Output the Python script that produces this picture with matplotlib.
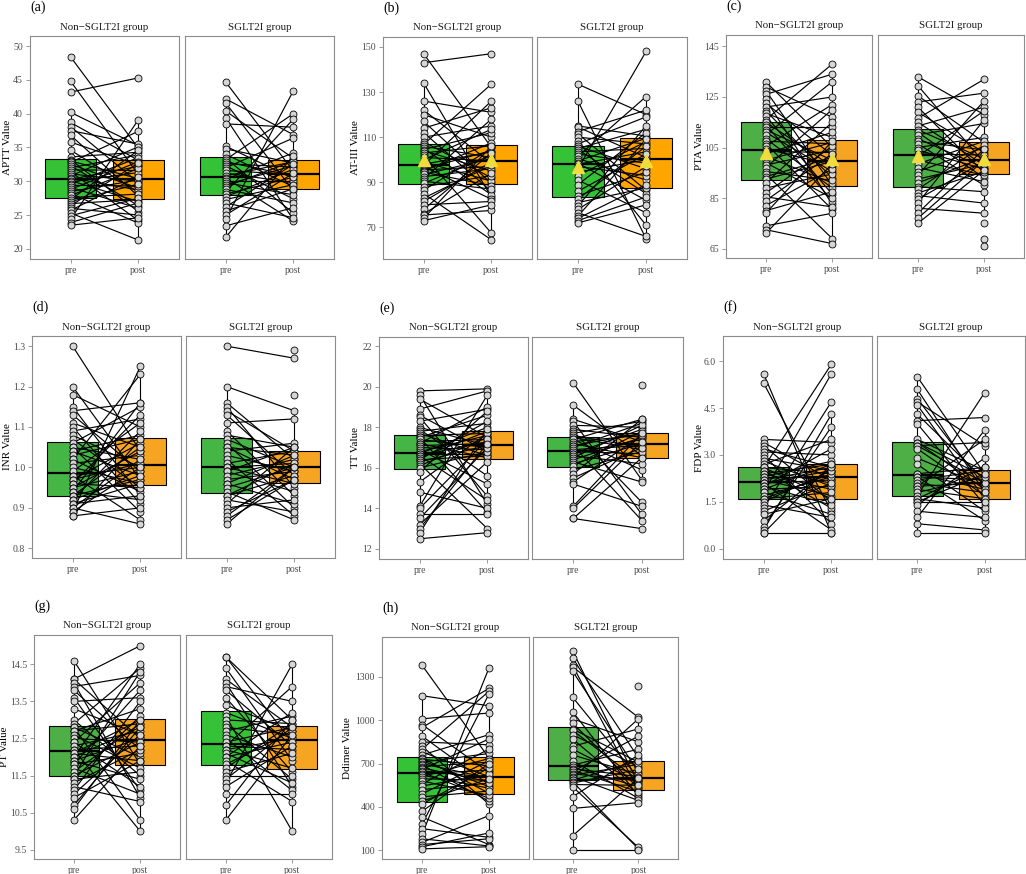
import numpy as np
import matplotlib
matplotlib.use("Agg")
import matplotlib.pyplot as plt

plt.rcParams['font.family'] = ['Liberation Serif', 'DejaVu Serif']

nan = np.nan
groups = ["Non\u2212SGLT2I group", "SGLT2I group"]
times = ["pre", "post"]

# (a) APTT
aptt_non_pre = [48.4, 44.8, 43.2, 40.2, 38.7, 38.1, 37.5, 36.8, 35.8, 34.6, 33.6, 33.2, 33.0, 32.8, 32.5,
                32.3, 32.0, 31.7, 31.4, 31.1, 30.8, 30.5, 30.3, 30.1, 29.9, 29.6, 29.4, 29.1, 28.8, 28.5,
                28.2, 27.9, 27.6, 27.3, 27.0, 26.7, 26.4, 26.0, 25.7, 25.3, 24.9, 24.4, 23.9, 23.5]
aptt_non_post = [34.9, 31.0, 45.3, 35.3, 33.1, 29.8, 35.5, 27.8, 32.4, 28.4, 34.3, 25.5, 30.4, 37.4, 29.0,
                 26.4, 33.9, 31.6, 24.2, 30.0, 35.1, 28.7, 32.2, 27.0, 31.3, 33.5, 29.3, 26.0, 32.9, 30.2,
                 23.8, 31.9, 28.1, 34.6, 29.6, 27.3, 32.7, 25.0, 30.7, 21.3, 27.5, 39.1, 26.8, 24.6]
aptt_sg_pre = [44.7, 42.2, 41.6, 40.4, 39.4, 38.5, 35.2, 34.8, 34.0, 33.4, 33.2, 32.9, 32.6, 32.3, 32.0,
               31.6, 31.2, 30.8, 30.5, 30.3, 30.1, 29.8, 29.5, 29.2, 28.8, 28.4, 28.1, 27.7, 27.3, 26.8,
               26.2, 25.6, 25.0, 24.4, 23.4, 21.7]
aptt_sg_post = [31.5, 36.9, 28.6, 33.4, 24.3, 38.0, 30.4, 32.7, 29.2, 25.3, 40.0, 30.8, 32.1, 27.4, 36.4,
                31.0, 29.8, 32.9, 24.1, 34.2, 30.1, 28.0, 32.3, 33.0, 26.8, 39.2, 30.6, 31.8, 29.5, 24.6,
                32.5, 28.9, 31.2, 43.4, 26.1, 33.8]
aptt_ticks = [20, 25, 30, 35, 40, 45, 50]

# (b) AT-III
at3_non_pre = [147, 143, 134, 126, 122, 120, 117, 114, 112, 110, 108, 106.8, 106, 105, 104.5, 104, 103,
               102, 101, 100, 99, 98, 97.5, 97, 96, 95.5, 95, 94.5, 93.5, 92.5, 91.5, 90.5, 89.5, 88,
               86.5, 85, 83, 81.5, 80, 78, 76, 75.5, 74, 73]
at3_non_post = [105.5, 147, 83.5, 121, 98.5, 110, 89.5, 123, 86, 115, 92, 133.5, 101, 84.5, 112, 95,
                106.2, 67.5, 99.5, 113.5, 90.5, 103.5, 126, 82.5, 104, 97, 107.5, 88.5, 100.5, 96, 118,
                87, 102, 93, 105, 64.5, 97.5, 99, 81.5, 103, 94, 77.5, 106, 80]
at3_sg_pre = [133.5, 126, 115, 114.5, 112.5, 111.5, 110, 108.5, 107, 106, 105, 104.5, 103.5, 102.5, 101.5,
              100.5, 99.5, 98.5, 98, 97, 96, 94.5, 93, 91, 89, 86, 84, 82.5, 81, 79.5, 78, 76.5, 75,
              74, 73, 72]
at3_sg_post = [120, 65, 110.5, 101, 122, 86.5, 107, 71, 119, 96, 113.5, 85, 105, 98.5, 128, 91, 109.5,
               82, 103.5, 93, 148, 100, 108, 76.5, 112, 102.5, 94.5, 106, 87.5, 115, 97, 66, 109, 89,
               83.5, 80]
at3_ticks = [70, 90, 110, 130, 150]

# (c) PTA
pta_non_pre = [131, 129, 127.5, 126, 124, 122.5, 121, 119.5, 118.5, 117.5, 116, 115, 114, 113, 112, 111,
               110, 108.5, 107.5, 106.5, 105.5, 104.5, 103.5, 102.5, 101.5, 100, 99, 98, 97, 95.5, 94.5,
               93.5, 92.5, 91, 89, 87, 85.5, 84, 82, 80, 79, 74, 72.5, 71]
pta_non_post = [105, 117, 90, 134, 82.5, 102, 125, 93, 109, 86.5, 138, 97.5, 84, 113, 100, 95.5, 131, 89,
                106.5, 80.5, 122, 98, 103, 111, 91, 107, 85, 104, 120, 92, 69, 101, 99.5, 115, 94.5,
                105.5, 81.5, 102.5, 96.5, 87.5, 107.5, 79, 67, 98.5]
pta_sg_pre = [133, 129.5, 125.5, 123, 121, 119, 116.5, 115, 113.5, 112, 111, 110, 108.5, 107.5, 106.5,
              105, 104, 102.5, 101.5, 100, 98.5, 97, 95.5, 94, 92.5, 91, 89.5, 88.5, 87, 86, 84.5, 83,
              81, 79, 77, 75, nan, nan, nan]
pta_sg_post = [118, 99, 107, 126.5, 95, 103, 132, 98, 121, 100.5, 93, 114.5, 97, 104, 90, 109, 96.5, 102,
               119.5, 94, 107.5, 91.5, 105, 123.5, 98.5, 101, 87.5, 106, 95.5, 83, 99.5, 116, 79, 104.5,
               100, 96, 75, 69, 66]
pta_ticks = [65, 85, 105, 125, 145]

# (d) INR
inr_non_pre = [1.30, 1.20, 1.18, 1.15, 1.14, 1.13, 1.11, 1.10, 1.09, 1.08, 1.07, 1.06, 1.05, 1.05, 1.04,
               1.04, 1.03, 1.02, 1.02, 1.01, 1.00, 0.99, 0.98, 0.98, 0.97, 0.97, 0.96, 0.96, 0.95, 0.95,
               0.94, 0.94, 0.93, 0.93, 0.92, 0.92, 0.91, 0.91, 0.90, 0.90, 0.89, 0.89, 0.88, 0.88]
inr_non_post = [1.04, 0.97, 1.10, 0.93, 1.16, 0.99, 1.05, 0.91, 1.12, 1.00, 0.95, 1.15, 1.02, 0.89, 1.08,
                0.98, 1.07, 0.94, 1.23, 1.03, 0.96, 1.11, 1.00, 0.87, 1.06, 1.01, 0.95, 1.13, 0.99, 1.04,
                0.92, 1.16, 0.97, 1.05, 0.98, 1.09, 0.96, 0.93, 1.02, 0.86, 1.25, 1.00, 1.07, 0.90]
inr_sg_pre = [1.30, 1.20, 1.16, 1.15, 1.14, 1.13, 1.11, 1.09, 1.08, 1.07, 1.06, 1.05, 1.05, 1.04, 1.03,
              1.02, 1.01, 1.00, 1.00, 0.99, 0.99, 0.98, 0.97, 0.96, 0.96, 0.95, 0.94, 0.93, 0.93, 0.92,
              0.91, 0.90, 0.89, 0.88, 0.87, 0.86, nan, nan]
inr_sg_post = [1.27, 1.14, 1.02, 0.95, 1.04, 0.98, 1.12, 0.93, 1.05, 1.00, 0.90, 1.03, 0.97, 1.06, 0.99,
               0.88, 1.04, 1.01, 0.96, 1.05, 0.94, 1.02, 0.99, 0.91, 1.03, 1.00, 0.87, 1.01, 0.98, 0.89,
               1.05, 0.92, 0.97, 1.00, 0.97, 1.00, 1.29, 1.18]
inr_ticks = [0.8, 0.9, 1.0, 1.1, 1.2, 1.3]

# (e) TT
tt_non_pre = [19.8, 19.6, 19.4, 18.9, 18.6, 18.5, 18.3, 18.0, 17.9, 17.8, 17.7, 17.6, 17.5, 17.5, 17.4,
              17.3, 17.2, 17.2, 17.1, 17.0, 16.9, 16.8, 16.7, 16.7, 16.6, 16.6, 16.5, 16.4, 16.4, 16.3,
              16.2, 16.1, 16.0, 15.8, 15.3, 14.8, 14.1, 14.0, 13.7, 13.5, 13.2, 13.0, 12.8, 12.5]
tt_non_post = [19.9, 14.2, 17.5, 19.8, 16.8, 14.6, 18.9, 17.1, 15.6, 18.2, 16.6, 17.7, 13.8, 18.6, 17.0,
               17.4, 16.5, 19.0, 17.2, 16.9, 15.2, 17.6, 18.0, 16.7, 17.3, 14.4, 17.8, 16.6, 18.3, 17.1,
               13.0, 17.5, 16.8, 18.8, 17.7, 14.0, 19.6, 17.4, 13.7, 17.0, 16.3, 17.2, 17.9, 12.8]
tt_sg_pre = [20.2, 19.1, 18.4, 18.3, 18.1, 17.9, 17.8, 17.7, 17.6, 17.5, 17.4, 17.4, 17.3, 17.2, 17.1,
             17.1, 17.0, 16.9, 16.8, 16.7, 16.7, 16.6, 16.5, 16.4, 16.3, 16.2, 16.1, 15.9, 15.7, 15.5,
             15.3, 15.2, 14.1, 14.0, 13.5, 13.5, nan]
tt_sg_post = [15.4, 16.6, 17.3, 13.7, 18.0, 17.5, 14.3, 18.3, 17.0, 16.9, 18.4, 15.9, 17.6, 16.5, 13.4,
              17.7, 18.2, 17.1, 16.7, 17.9, 17.4, 16.2, 18.1, 17.5, 15.3, 17.2, 17.8, 16.8, 18.4, 17.0,
              17.6, 14.1, 17.7, 17.3, 13.0, 16.5, 20.1]
tt_ticks = [12, 14, 16, 18, 20, 22]

# (f) FDP
fdp_non_pre = [5.6, 5.3, 3.5, 3.4, 3.3, 3.2, 3.1, 3.0, 2.9, 2.8, 2.7, 2.6, 2.6, 2.6, 2.5, 2.5, 2.4, 2.4,
               2.3, 2.3, 2.2, 2.2, 2.1, 2.1, 2.1, 2.0, 2.0, 1.9, 1.9, 1.8, 1.8, 1.7, 1.6, 1.6, 1.5, 1.4,
               1.3, 1.2, 1.1, 0.9, 0.7, 0.6, 0.5, 0.5]
fdp_non_post = [0.5, 1.2, 3.4, 2.2, 1.5, 2.6, 3.0, 0.8, 2.5, 2.0, 3.5, 1.6, 2.4, 5.9, 2.1, 1.3, 2.7, 1.9,
                2.3, 2.8, 1.7, 2.6, 0.6, 2.5, 2.2, 3.2, 1.4, 2.7, 2.0, 5.6, 1.1, 2.3, 2.4, 1.8, 2.5, 1.0,
                4.7, 2.1, 1.6, 2.6, 3.9, 4.3, 0.5, 2.7]
fdp_sg_pre = [5.5, 5.1, 4.8, 4.7, 4.6, 4.3, 4.1, 4.0, 3.5, 3.4, 3.4, 3.3, 3.3, 3.2, 2.9, 2.7, 2.4, 2.4,
              2.3, 2.3, 2.2, 2.1, 2.0, 2.0, 1.9, 1.8, 1.7, 1.6, 1.6, 1.5, 1.5, 1.4, 1.2, 1.0, 0.8, 0.5]
fdp_sg_post = [2.4, 1.8, 2.0, 3.3, 1.6, 2.2, 4.2, 1.4, 2.5, 1.9, 2.3, 2.1, 3.4, 1.7, 2.0, 1.2, 2.6, 1.9,
               2.2, 0.9, 2.5, 1.8, 3.5, 2.1, 1.6, 2.3, 5.0, 1.3, 2.6, 2.4, 1.5, 2.9, 1.0, 3.8, 0.6, 0.5]
fdp_ticks = [0.0, 1.5, 3.0, 4.5, 6.0]

# (g) PT
pt_non_pre = [14.6, 14.1, 14.1, 14.0, 13.9, 13.8, 13.6, 13.5, 13.3, 13.0, 12.9, 12.8, 12.8, 12.7, 12.7,
              12.6, 12.5, 12.4, 12.4, 12.3, 12.2, 12.2, 12.1, 12.1, 12.0, 12.0, 11.9, 11.9, 11.8, 11.8,
              11.7, 11.6, 11.5, 11.5, 11.4, 11.4, 11.3, 11.2, 11.1, 11.0, 10.9, 10.7, 10.6, 10.3]
pt_non_post = [11.8, 15.0, 12.5, 10.9, 14.2, 12.2, 11.1, 13.6, 12.6, 11.5, 14.4, 12.0, 10.3, 12.9, 13.3,
               11.7, 12.4, 14.0, 11.2, 12.7, 12.3, 10.0, 13.0, 11.9, 12.8, 14.5, 11.4, 12.5, 13.8, 12.1,
               11.0, 12.9, 12.4, 14.3, 11.6, 13.1, 12.2, 10.8, 13.5, 12.6, 11.9, 12.8, 13.0, 12.3]
pt_sg_pre = [14.7, 14.7, 14.4, 14.1, 14.0, 13.9, 13.8, 13.6, 13.4, 13.2, 13.1, 13.0, 12.9, 12.8, 12.7,
             12.6, 12.5, 12.4, 12.3, 12.3, 12.2, 12.2, 12.1, 12.0, 12.0, 11.9, 11.8, 11.7, 11.6, 11.5,
             11.4, 11.3, 11.2, 11.0, 10.7, 10.3]
pt_sg_post = [13.0, 12.4, 11.9, 12.8, 11.2, 13.5, 12.3, 11.6, 12.7, 12.5, 10.0, 12.9, 11.4, 12.6, 13.1,
              12.0, 11.1, 12.8, 13.9, 12.2, 11.7, 12.5, 11.3, 13.2, 12.4, 10.8, 12.7, 12.9, 12.1, 11.5,
              12.8, 14.5, 12.3, 11.0, 13.0, 12.6]
pt_ticks = [9.5, 10.5, 11.5, 12.5, 13.5, 14.5]

# (h) Ddimer
dd_non_pre = [1380, 1170, 1010, 970, 950, 890, 850, 820, 800, 780, 760, 740, 730, 720, 710, 700, 690, 680,
              670, 660, 650, 640, 630, 620, 610, 595, 580, 560, 545, 520, 490, 470, 440, 420, 370, 330,
              280, 250, 210, 180, 155, 140, 125, 110]
dd_non_post = [740, 1100, 1050, 640, 1220, 555, 830, 420, 1200, 610, 900, 495, 685, 540, 770, 600, 440,
               710, 575, 870, 605, 460, 655, 530, 735, 585, 480, 800, 625, 565, 720, 510, 595, 670, 700,
               140, 1180, 190, 1360, 130, 340, 180, 220, 125]
dd_sg_pre = [1480, 1430, 1380, 1370, 1340, 1160, 1060, 1010, 980, 940, 930, 900, 870, 820, 800, 760, 720,
             690, 675, 665, 655, 645, 630, 620, 610, 600, 590, 585, 575, 565, 555, 540, 470, 390, 200,
             100, nan]
dd_sg_post = [560, 740, 515, 1020, 640, 600, 475, 850, 530, 710, 585, 680, 490, 940, 570, 625, 460, 800,
              540, 610, 505, 890, 580, 695, 445, 1010, 594, 720, 110, 660, 550, 120, 760, 430, 600, 100,
              1240]
dd_ticks = [100, 400, 700, 1000, 1300]

W, H = 1026, 874
fig = plt.figure(figsize=(W / 100, H / 100), dpi=100)

BRIGHT = '#36C236'
MID = '#45B545'
DARK = '#4DAF45'
OR1 = '#FFA500'
OR2 = '#F6A522'
GRID = '#8C8C8C'

# layout in reference pixels: facet x-extents, panel top/bottom, y-label centre x
panels = [
    dict(tag="(a)", ylab="APTT Value", data=(aptt_non_pre, aptt_non_post, aptt_sg_pre, aptt_sg_post),
         ticks=aptt_ticks, fmt="{:.0f}", ylim=(18.5, 51.5), mean=False,
         cols=((BRIGHT, OR1), (BRIGHT, OR1)), xs=((30, 179), (185, 334)), ys=(36, 259), labx=8),
    dict(tag="(b)", ylab="AT-III Value", data=(at3_non_pre, at3_non_post, at3_sg_pre, at3_sg_post),
         ticks=at3_ticks, fmt="{:.0f}", ylim=(56, 154.4), mean=True,
         cols=((BRIGHT, OR1), (BRIGHT, OR1)), xs=((383, 532), (537, 687)), ys=(37, 259), labx=355),
    dict(tag="(c)", ylab="PTA Value", data=(pta_non_pre, pta_non_post, pta_sg_pre, pta_sg_post),
         ticks=pta_ticks, fmt="{:.0f}", ylim=(61.3, 149.5), mean=True,
         cols=((DARK, OR2), (DARK, OR2)), xs=((726, 872), (878, 1024)), ys=(35, 258), labx=699),
    dict(tag="(d)", ylab="INR Value", data=(inr_non_pre, inr_non_post, inr_sg_pre, inr_sg_post),
         ticks=inr_ticks, fmt="{:.1f}", ylim=(0.776, 1.325), mean=False,
         cols=((MID, OR2), (MID, OR2)), xs=((32, 181), (186, 335)), ys=(336, 558), labx=8),
    dict(tag="(e)", ylab="TT Value", data=(tt_non_pre, tt_non_post, tt_sg_pre, tt_sg_post),
         ticks=tt_ticks, fmt="{:.0f}", ylim=(11.5, 22.46), mean=False,
         cols=((MID, OR2), (MID, OR2)), xs=((379, 528), (532, 683)), ys=(337, 559), labx=356),
    dict(tag="(f)", ylab="FDP Value", data=(fdp_non_pre, fdp_non_post, fdp_sg_pre, fdp_sg_post),
         ticks=fdp_ticks, fmt="{:.1f}", ylim=(-0.33, 6.81), mean=False,
         cols=((DARK, OR2), (DARK, OR2)), xs=((723, 872), (877, 1025)), ys=(336, 559), labx=699),
    dict(tag="(g)", ylab="PT Value", data=(pt_non_pre, pt_non_post, pt_sg_pre, pt_sg_post),
         ticks=pt_ticks, fmt="{:.1f}", ylim=(9.25, 15.29), mean=False,
         cols=((DARK, OR2), (BRIGHT, OR2)), xs=((34, 180), (186, 332)), ys=(635, 859), labx=5),
    dict(tag="(h)", ylab="Ddimer Value", data=(dd_non_pre, dd_non_post, dd_sg_pre, dd_sg_post),
         ticks=dd_ticks, fmt="{:.0f}", ylim=(40, 1576), mean=False,
         cols=((BRIGHT, OR1), (DARK, OR2)), xs=((382, 529), (533, 678)), ys=(637, 859), labx=348),
]


def px_axes(l, r, top, bottom):
    return fig.add_axes([l / W, 1 - bottom / H, (r - l) / W, (bottom - top) / H])


def draw_facet(ax, pre, post, green, orange, show_mean):
    pre = np.asarray(pre, float)
    post = np.asarray(post, float)
    data = [pre[~np.isnan(pre)], post[~np.isnan(post)]]
    bp = ax.boxplot(data, positions=[1, 2], widths=0.76, patch_artist=True, showfliers=False,
                    showcaps=False, whis=1.5, manage_ticks=False,
                    medianprops=dict(color='black', linewidth=1.6),
                    whiskerprops=dict(color='black', linewidth=0.8),
                    boxprops=dict(edgecolor='black', linewidth=0.8))
    for patch, c in zip(bp['boxes'], [green, orange]):
        patch.set_facecolor(c)
        patch.set_zorder(1)
    for a, b in zip(pre, post):
        if np.isnan(a) or np.isnan(b):
            continue
        ax.plot([1, 2], [a, b], color='black', lw=0.85, zorder=2)
    for x, vals in ((1, pre), (2, post)):
        ax.plot(np.full(len(vals), x), vals, 'o', ms=5, mfc='#D6D6D6', mec='black', mew=0.6,
                linestyle='none', zorder=3)
    if show_mean:
        ax.plot([1, 2], [np.nanmean(pre), np.nanmean(post)], '^', color='#F0DC3C', ms=8,
                linestyle='none', zorder=4)


for p in panels:
    top, bottom = p["ys"]
    d = p["data"]
    for k in range(2):
        l, r = p["xs"][k]
        ax = px_axes(l, r, top, bottom)
        draw_facet(ax, d[2 * k], d[2 * k + 1], p["cols"][k][0], p["cols"][k][1], p["mean"])
        ax.set_xlim(0.4, 2.6)
        ax.set_ylim(*p["ylim"])
        ax.set_xticks([1, 2])
        ax.set_xticklabels(times)
        ax.set_yticks(p["ticks"])
        ax.set_yticklabels([p["fmt"].format(t) for t in p["ticks"]])
        for s in ax.spines.values():
            s.set_color(GRID)
            s.set_linewidth(0.8)
        ax.tick_params(direction='out', length=3, width=0.6, color=GRID, labelsize=7,
                       labelcolor='#4D4D4D', pad=2)
        ax.text(0.5, 1 + 9 / (bottom - top), groups[k], transform=ax.transAxes, ha='center',
                va='center', fontsize=7.8, color='#1A1A1A')
        if k == 0:
            fig.text(p["labx"] / W, 1 - (top + bottom) / 2 / H, p["ylab"], rotation=90,
                     ha='center', va='center', fontsize=8)
            fig.text(l / W, 1 - (top - 29) / H, p["tag"], ha='left', va='center', fontsize=10)
        else:
            ax.tick_params(left=False, labelleft=False)

fig.savefig("out.png", dpi=100)
